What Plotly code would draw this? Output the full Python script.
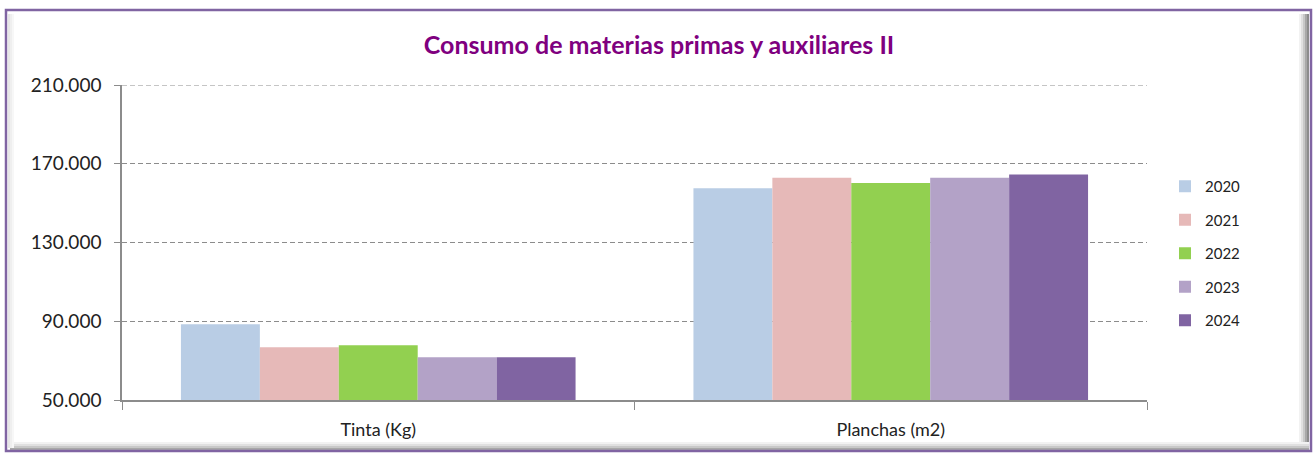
import plotly.graph_objects as go

categories = ["Tinta (Kg)", "Planchas (m2)"]
years = ["2020", "2021", "2022", "2023", "2024"]
values = {
    "2020": [88500, 157500],
    "2021": [76800, 162900],
    "2022": [77800, 160200],
    "2023": [71700, 162900],
    "2024": [71700, 164600],
}
colors = ["#B9CDE5", "#E6B9B8", "#92D050", "#B3A2C7", "#8064A2"]
y_ticks = [50000, 90000, 130000, 170000, 210000]

W, H = 1314, 453
L, R, T, B = 122, 167, 85, 53
PW, PH = W - L - R, H - T - B

def px(x):
    return (x - L) / PW

def py(y):
    return (H - B - y) / PH

fig = go.Figure()
for yr, c in zip(years, colors):
    fig.add_trace(go.Bar(
        x=categories, y=values[yr], name=yr, marker_color=c,
        marker_line_width=0, legendgroup=yr,
    ))

shapes = []
# shadow on right and bottom (inside border)
for i, g in enumerate(["#F2F2F2", "#E0E0E0", "#C8C8C8", "#A8A8A8", "#8C8C8C"]):
    shapes.append(dict(type="rect", xref="paper", yref="paper",
                       x0=px(1299 + i * 2), x1=px(1301 + i * 2), y0=py(448), y1=py(14),
                       fillcolor=g, line_width=0, layer="below"))
for i, g in enumerate(["#F2F2F2", "#E0E0E0", "#C8C8C8", "#A8A8A8"]):
    shapes.append(dict(type="rect", xref="paper", yref="paper",
                       x0=px(10), x1=px(1309), y0=py(444 + i * 2), y1=py(442 + i * 2),
                       fillcolor=g, line_width=0, layer="below"))
# left faint shade
for i, g in enumerate(["#E6E6E6", "#EFEFEF", "#F7F7F7"]):
    shapes.append(dict(type="rect", xref="paper", yref="paper",
                       x0=px(8 + i * 2), x1=px(10 + i * 2), y0=py(448), y1=py(14),
                       fillcolor=g, line_width=0, layer="below"))
# purple border
shapes.append(dict(type="rect", xref="paper", yref="paper",
                   x0=px(6), x1=px(1311), y0=py(451), y1=py(10),
                   line=dict(color="#8064A2", width=2.5), fillcolor="rgba(0,0,0,0)",
                   layer="below"))
# top gridline (plotly omits it at the range edge)
shapes.append(dict(type="line", xref="paper", yref="y",
                   x0=0, x1=1, y0=y_ticks[-1], y1=y_ticks[-1],
                   line=dict(color="#8C8C8C", width=1, dash="5px,3px"), layer="below"))

fig.update_layout(
    width=W, height=H,
    margin=dict(l=L, r=R, t=T, b=B, autoexpand=False),
    paper_bgcolor="white", plot_bgcolor="white",
    separators=",.",
    barmode="group", bargap=0.23, bargroupgap=0,
    font=dict(family="Lato, 'Open Sans', sans-serif", color="#222222"),
    title=dict(text="<b>Consumo de materias primas y auxiliares II</b>",
               x=px(659), xref="paper", xanchor="center",
               y=1 - 45 / H, yanchor="middle",
               font=dict(size=25, color="#7F007F", family="Lato, sans-serif")),
    showlegend=True,
    legend=dict(x=px(1165), y=py(170), xanchor="left", yanchor="top",
                font=dict(size=15, color="#222222"),
                tracegroupgap=11, itemwidth=30, bgcolor="rgba(0,0,0,0)"),
    shapes=shapes,
)
fig.update_yaxes(
    range=[50000, 210000], tickvals=y_ticks, tickformat=",.0f",
    showgrid=True, gridcolor="#8C8C8C", griddash="5px,3px", gridwidth=1,
    showline=True, linecolor="#8C8C8C", linewidth=1.5,
    ticks="outside", ticklen=6, tickcolor="#8C8C8C",
    tickfont=dict(size=19, color="#222222"), zeroline=False,
    ticklabelstandoff=9,
)
fig.update_xaxes(
    showline=True, linecolor="#8C8C8C", linewidth=1.5,
    ticks="outside", ticklen=8, tickcolor="#8C8C8C", tickson="boundaries",
    tickfont=dict(size=18, color="#222222"), ticklabelstandoff=13,
)

fig.write_html("out.html", post_script="document.body.style.margin='0';",
               config={"displayModeBar": False})
